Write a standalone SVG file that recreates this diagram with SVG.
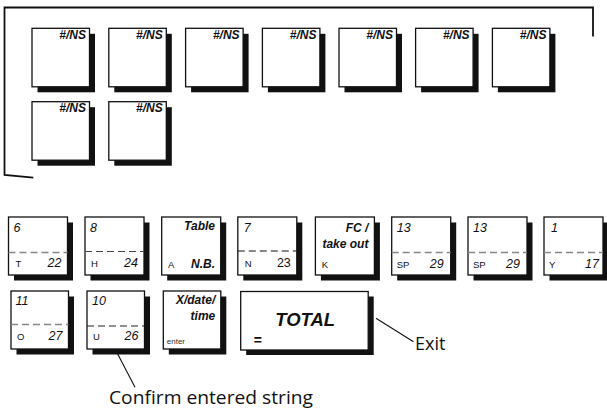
<svg xmlns="http://www.w3.org/2000/svg" width="607" height="410" viewBox="0 0 607 410">
<style>
.sh{fill:#111}
.fc{fill:#fff;stroke:#111;stroke-width:1.3}
.lb{font-family:"Liberation Sans",Arial,sans-serif;font-weight:bold;font-style:italic;font-size:12px;fill:#111}
.num{font-family:"Liberation Sans",Arial,sans-serif;font-style:italic;font-size:12.5px;fill:#111}
.sm{font-family:"Liberation Sans",Arial,sans-serif;font-size:9.5px;fill:#111}
.r{text-anchor:end}
.dg{stroke:#888;stroke-width:1.3;stroke-dasharray:7 4;fill:none}
.db{stroke:#111;stroke-width:1.1;stroke-dasharray:7 4;fill:none}
.cap{font-family:"Open Sans","DejaVu Sans",sans-serif;font-size:18px;fill:#111}
.ln{stroke:#111;stroke-width:1.1;fill:none}
</style>
<defs>
<g id="k58"><rect class="sh" x="5.5" y="5.5" width="57.5" height="58.5"/><rect class="fc" x="0" y="0" width="57.5" height="58.5"/><text class="lb r" x="54" y="10.5">#/NS</text></g>
<g id="kb"><rect class="sh" x="5.5" y="5.5" width="59" height="58"/><rect class="fc" x="0" y="0" width="59" height="58"/></g>
<g id="kc"><rect class="sh" x="5.5" y="5.5" width="57.5" height="58"/><rect class="fc" x="0" y="0" width="57.5" height="58"/></g>
</defs>

<g id="connectors">
<path class="ln" style="stroke-width:1.8" d="M33.3 177.7 L4.5 175 L4.5 7.5 L593 7.5 L593 36.5"/>
<path class="ln" d="M376 318.3 L413.5 341.7"/>
<path class="ln" d="M117.3 353.3 L135 387.3"/>
</g>

<g id="ns1"><use href="#k58" x="32" y="28.3"/></g>
<g id="ns2"><use href="#k58" x="108.8" y="28.3"/></g>
<g id="ns3"><use href="#k58" x="185.6" y="28.3"/></g>
<g id="ns4"><use href="#k58" x="262.4" y="28.3"/></g>
<g id="ns5"><use href="#k58" x="339" y="28.3"/></g>
<g id="ns6"><use href="#k58" x="415.6" y="28.3"/></g>
<g id="ns7"><use href="#k58" x="492.4" y="28.3"/></g>
<g id="ns8"><use href="#k58" x="32" y="101.7"/></g>
<g id="ns9"><use href="#k58" x="108.8" y="101.7"/></g>

<g id="k6" transform="translate(8.5,217)"><use href="#kb"/><line class="dg" x1="0" y1="35.5" x2="59" y2="35.5"/><text class="num" x="5" y="15">6</text><text class="sm" x="7" y="50">T</text><text class="num r" x="53" y="50">22</text></g>
<g id="k8" transform="translate(85,217)"><use href="#kb"/><line class="db" style="stroke:#444" x1="0" y1="34.5" x2="59" y2="34.5"/><text class="num" x="5" y="15">8</text><text class="sm" x="6" y="50">H</text><text class="num r" x="53" y="50">24</text></g>
<g id="ktable" transform="translate(161.7,217)"><use href="#kb"/><text class="lb r" x="53.3" y="13">Table</text><text class="sm" x="6.3" y="50.5">A</text><text class="lb r" x="53.3" y="50.5">N.B.</text></g>
<g id="k7" transform="translate(237.8,217)"><use href="#kb"/><line class="db" x1="0" y1="34" x2="59" y2="34"/><text class="num" x="6" y="15">7</text><text class="sm" x="7" y="50">N</text><text class="num r" style="font-style:normal" x="53" y="50">23</text></g>
<g id="kfc" transform="translate(315.4,217)"><use href="#kb"/><text class="lb r" x="53" y="14.5">FC /</text><text class="lb r" x="53" y="31.3">take out</text><text class="sm" x="6.3" y="51">K</text></g>
<g id="k13a" transform="translate(391.7,217)"><use href="#kb"/><line class="dg" x1="0" y1="35.5" x2="59" y2="35.5"/><text class="num" x="5" y="15">13</text><text class="sm" x="5" y="51">SP</text><text class="num r" x="52" y="50.5">29</text></g>
<g id="k13b" transform="translate(468,217)"><use href="#kb"/><line class="dg" x1="0" y1="35.5" x2="59" y2="35.5"/><text class="num" x="5" y="15">13</text><text class="sm" x="5" y="51">SP</text><text class="num r" x="52" y="50.5">29</text></g>
<g id="k1" transform="translate(544,217)"><use href="#kb"/><line class="dg" x1="0" y1="35.5" x2="59" y2="35.5"/><text class="num" x="7" y="15">1</text><text class="sm" x="5" y="51">Y</text><text class="num r" x="55" y="50.5">17</text></g>

<g id="k11" transform="translate(11,291)"><use href="#kc"/><line class="dg" x1="0" y1="33.5" x2="57.5" y2="33.5"/><text class="num" x="4.5" y="14">11</text><text class="sm" x="6" y="49">O</text><text class="num r" x="51.5" y="49">27</text></g>
<g id="k10" transform="translate(87,291)"><use href="#kc"/><line class="db" x1="0" y1="35" x2="57.5" y2="35" style="stroke:#222"/><text class="num" x="5" y="14">10</text><text class="sm" x="6" y="49">U</text><text class="num r" x="51.5" y="49">26</text></g>
<g id="kx" transform="translate(163.3,291)"><use href="#kc"/><text class="lb r" x="52" y="12.5">X/date/</text><text class="lb r" x="52" y="29">time</text><text class="sm" style="font-size:8px;fill:#333" x="3.5" y="53">enter</text></g>
<g id="ktotal" transform="translate(240.7,291.5)"><rect class="sh" x="5.5" y="5" width="127.5" height="58.5"/><rect class="fc" x="0" y="0" width="127.5" height="58.5"/><text class="lb" style="font-size:18.5px;text-anchor:middle" x="64.5" y="34">TOTAL</text><text class="lb" style="font-size:14px;font-style:normal" x="13" y="53">=</text></g>

<g id="labels">
<text class="cap" x="415" y="350">Exit</text>
<text class="cap" x="109" y="404" textLength="204" lengthAdjust="spacingAndGlyphs">Confirm entered string</text>
</g>
</svg>
